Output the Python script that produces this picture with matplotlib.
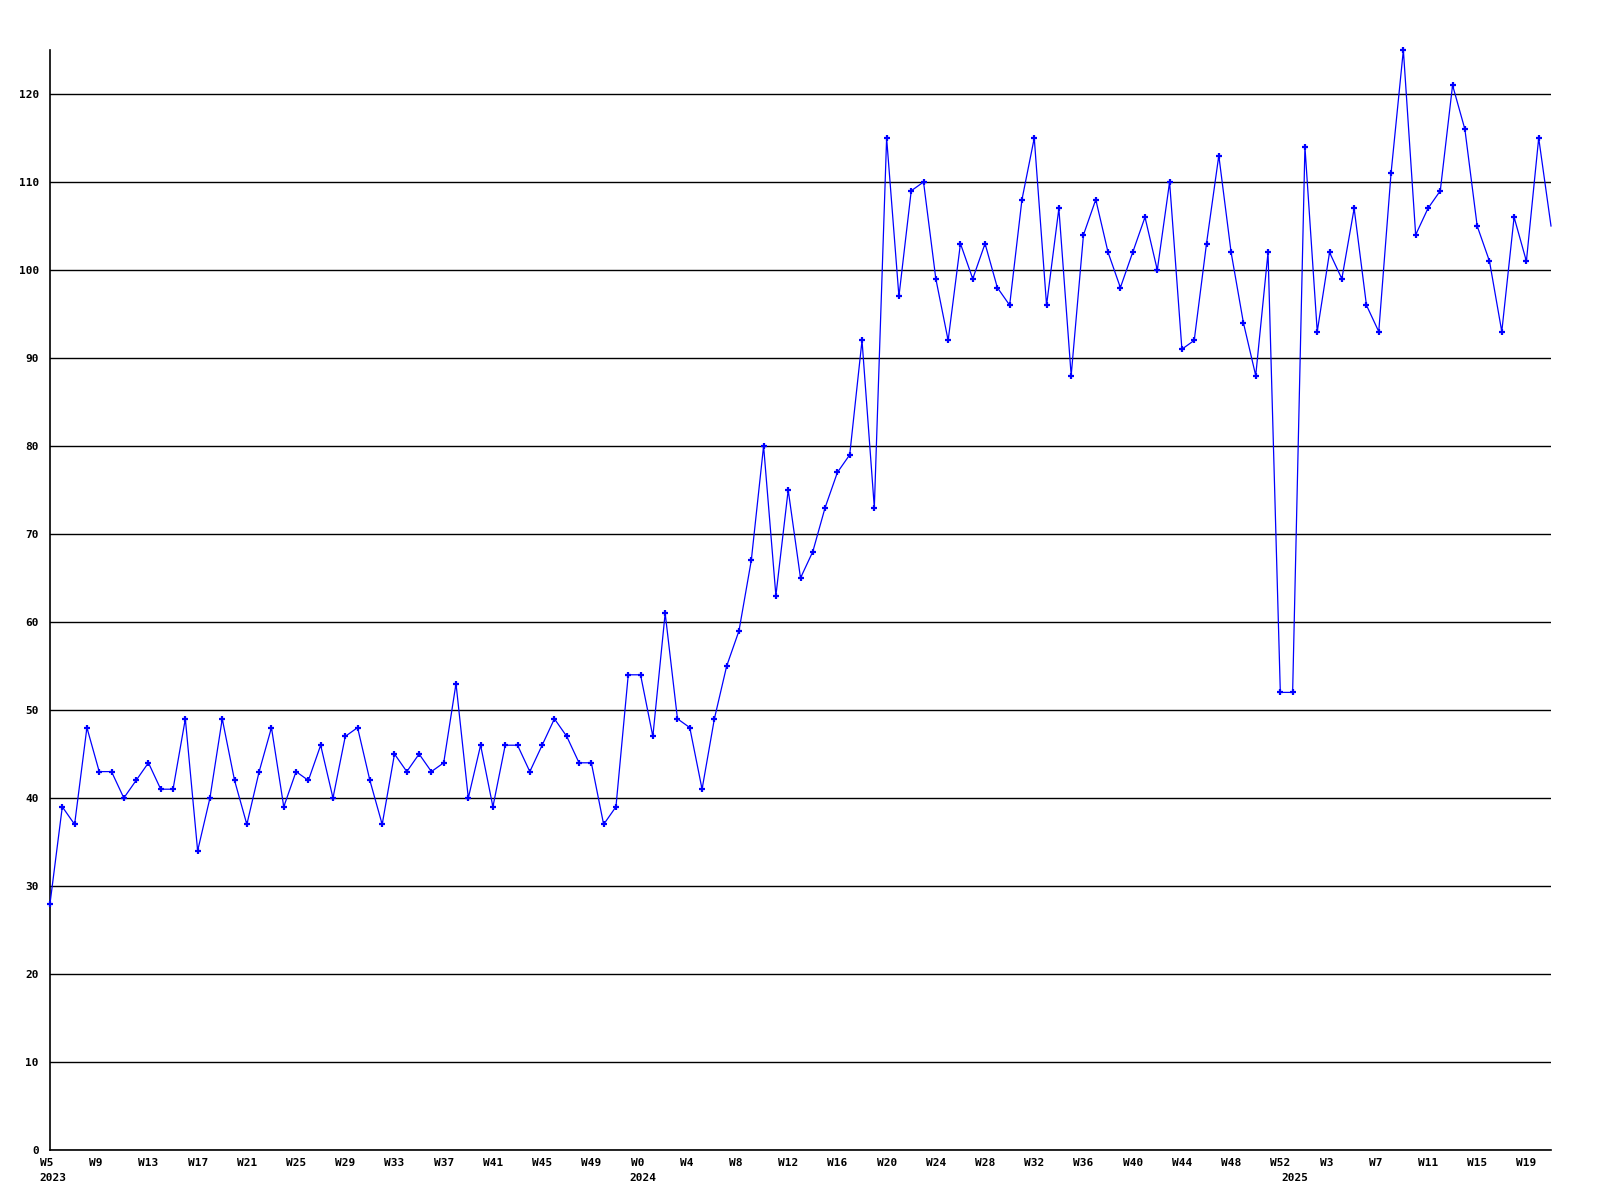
import matplotlib
matplotlib.use('Agg')
import matplotlib.pyplot as plt
import matplotlib.transforms as mtransforms

# weekly counts, 2023 W5 .. 2025 W20
values = [28, 39, 37, 48, 43, 43, 40, 42, 44, 41,
          41, 49, 34, 40, 49, 42, 37, 43, 48, 39,
          43, 42, 46, 40, 47, 48, 42, 37, 45, 43,
          45, 43, 44, 53, 40, 46, 39, 46, 46, 43,
          46, 49, 47, 44, 44, 37, 39, 54, 54, 47,
          61, 49, 48, 41, 49, 55, 59, 67, 80, 63,
          75, 65, 68, 73, 77, 79, 92, 73, 115, 97,
          109, 110, 99, 92, 103, 99, 103, 98, 96, 108,
          115, 96, 107, 88, 104, 108, 102, 98, 102, 106,
          100, 110, 91, 92, 103, 113, 102, 94, 88, 102,
          52, 52, 114, 93, 102, 99, 107, 96, 93, 111,
          125, 104, 107, 109, 121, 116, 105, 101, 93, 106,
          101, 115, 105]

tick_labels = ['W5', 'W9', 'W13', 'W17', 'W21', 'W25', 'W29', 'W33', 'W37', 'W41',
               'W45', 'W49', 'W0', 'W4', 'W8', 'W12', 'W16', 'W20', 'W24', 'W28',
               'W32', 'W36', 'W40', 'W44', 'W48', 'W52', 'W3', 'W7', 'W11', 'W15',
               'W19']
years = ['2023', '2024', '2025']
year_index = [0, 48, 101]

font = {'family': 'DejaVu Sans Mono', 'weight': 'bold', 'size': 8}

fig = plt.figure(figsize=(16, 12), dpi=100)
ax = fig.add_axes([50/1600, 50/1200, 1501/1600, 1100/1200])

x = list(range(len(values)))
ax.plot(x, values, color='#0000ff', linewidth=0.9, marker='+', markersize=5,
        markeredgewidth=1.6, markevery=list(range(len(values) - 1)), zorder=3,
        clip_on=False)

ax.set_xlim(0, len(values) - 1)
ax.set_ylim(0, 125)

ax.set_yticks(range(0, 121, 10))
ax.set_yticklabels([str(v) for v in range(0, 121, 10)], fontdict=font)
ax.yaxis.grid(True, color='black', linewidth=1.0)
ax.set_axisbelow(True)

# week labels sit left-aligned a little before their tick
ticks = list(range(0, len(values), 4))
ax.set_xticks(ticks)
ax.set_xticklabels([''] * len(ticks))
week_tr = ax.get_xaxis_transform() + mtransforms.ScaledTranslation(-0.10, -0.08, fig.dpi_scale_trans)
for t, lab in zip(ticks, tick_labels):
    ax.text(t, 0, lab, fontdict=font, ha='left', va='top', transform=week_tr)

year_tr = ax.get_xaxis_transform() + mtransforms.ScaledTranslation(-0.11, -0.23, fig.dpi_scale_trans)
for yr, idx in zip(years, year_index):
    ax.text(idx, 0, yr, fontdict=font, ha='left', va='top', transform=year_tr)

ax.tick_params(axis='both', length=0)
ax.tick_params(axis='y', pad=8)

for s in ['top', 'right']:
    ax.spines[s].set_visible(False)
for s in ['left', 'bottom']:
    ax.spines[s].set_color('black')
    ax.spines[s].set_linewidth(1.2)

fig.savefig('out.png', dpi=100, facecolor='white')
